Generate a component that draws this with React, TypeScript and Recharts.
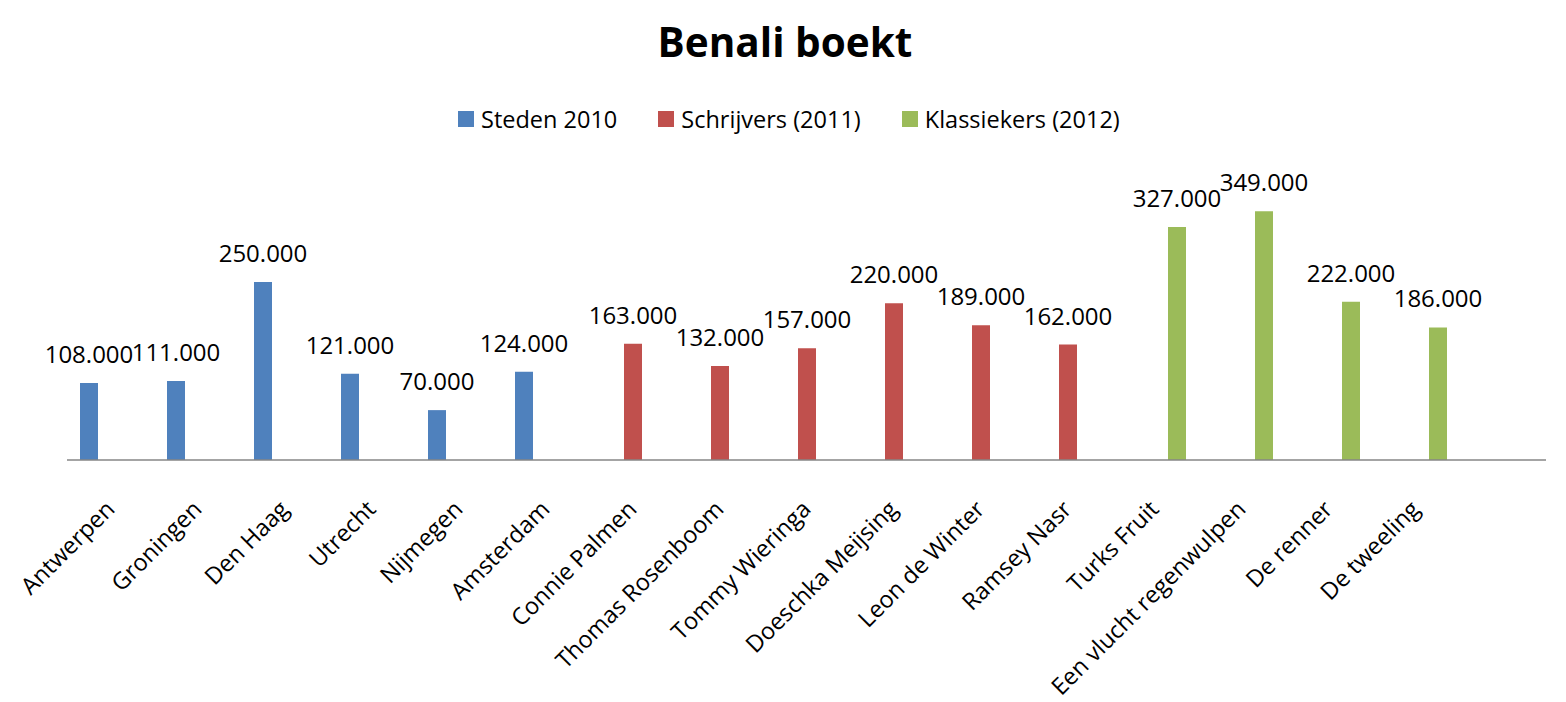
import React from 'react';
import { BarChart, Bar, XAxis, YAxis, LabelList } from 'recharts';

// categories (last one is an empty slot, like in the original sheet)
const categories = [
  'Antwerpen', 'Groningen', 'Den Haag', 'Utrecht', 'Nijmegen', 'Amsterdam',
  'Connie Palmen', 'Thomas Rosenboom', 'Tommy Wieringa', 'Doeschka Meijsing', 'Leon de Winter', 'Ramsey Nasr',
  'Turks Fruit', 'Een vlucht regenwulpen', 'De renner', 'De tweeling', '',
];

const steden = [108000, 111000, 250000, 121000, 70000, 124000, null, null, null, null, null, null, null, null, null, null, null];
const schrijvers = [null, null, null, null, null, null, 163000, 132000, 157000, 220000, 189000, 162000, null, null, null, null, null];
const klassiekers = [null, null, null, null, null, null, null, null, null, null, null, null, 327000, 349000, 222000, 186000, null];

const seriesNames = ['Steden 2010', 'Schrijvers (2011)', 'Klassiekers (2012)'];
const colors = ['#4F81BD', '#C0504D', '#9BBB59'];

const data = categories.map((name, i) => ({
  name,
  steden: steden[i],
  schrijvers: schrijvers[i],
  klassiekers: klassiekers[i],
}));

const FONT = '"Open Sans", Calibri, sans-serif';

const fmt = (n: number) => String(n).replace(/\B(?=(\d{3})+(?!\d))/g, '.');

const ValueLabel = (props: any) => {
  const { x, y, width, value } = props;
  if (value == null) return null;
  return (
    <text x={x + width / 2} y={y - 20} textAnchor="middle" fontSize={24} fontFamily={FONT} fill="#000">
      {fmt(value)}
    </text>
  );
};

const CategoryTick = (props: any) => {
  const { x, y, payload } = props;
  return (
    <g transform={`translate(${x - 6},${y + 31})`}>
      <text textAnchor="end" transform="rotate(-45)" fontSize={23.5} fontFamily={FONT} fill="#000" dy="0.7em">
        {payload.value}
      </text>
    </g>
  );
};

const App = () => {
  return (
    <div style={{ position: 'relative', width: 1566, height: 702, background: '#fff' }}>
      <style>{'body{margin:0}'}</style>
      <div
        style={{
          position: 'absolute', top: 14, left: 0, width: 1566, textAlign: 'center',
          fontFamily: FONT, fontWeight: 700, fontSize: 40.5, color: '#000', paddingLeft: 2,
        }}
      >
        Benali boekt
      </div>
      <div style={{ position: 'absolute', top: 103, left: 458, display: 'flex', alignItems: 'center', fontFamily: FONT, fontSize: 23.5 }}>
        {seriesNames.map((s, i) => (
          <div key={s} style={{ display: 'flex', alignItems: 'center', marginRight: 41 }}>
            <span style={{ width: 16, height: 16, background: colors[i], display: 'inline-block', marginRight: 7 }} />
            <span>{s}</span>
          </div>
        ))}
      </div>
      <BarChart
        width={1566}
        height={702}
        data={data}
        margin={{ top: 175, right: 20, left: 67, bottom: 42 }}
        barSize={18}
        barGap={4}
      >
        <XAxis
          dataKey="name"
          interval={0}
          height={200}
          tickLine={false}
          axisLine={{ stroke: '#868686', strokeWidth: 1.5 }}
          tick={<CategoryTick />}
        />
        <YAxis hide domain={[0, 400000]} />
        <Bar dataKey="steden" name={seriesNames[0]} fill={colors[0]} isAnimationActive={false}>
          <LabelList dataKey="steden" content={<ValueLabel />} />
        </Bar>
        <Bar dataKey="schrijvers" name={seriesNames[1]} fill={colors[1]} isAnimationActive={false}>
          <LabelList dataKey="schrijvers" content={<ValueLabel />} />
        </Bar>
        <Bar dataKey="klassiekers" name={seriesNames[2]} fill={colors[2]} isAnimationActive={false}>
          <LabelList dataKey="klassiekers" content={<ValueLabel />} />
        </Bar>
      </BarChart>
    </div>
  );
};

export default App;
